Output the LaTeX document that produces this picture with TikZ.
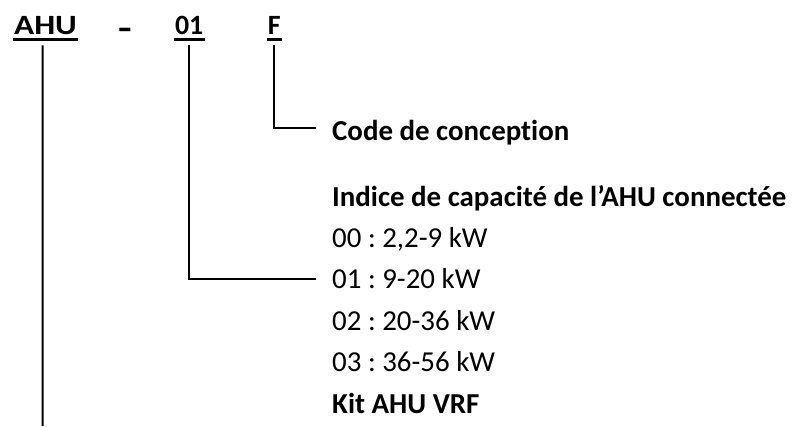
\documentclass[tikz,border=0pt]{standalone}
\usepackage{fontspec}
\setmainfont{Carlito}[Ligatures=CommonOff]
\usetikzlibrary{positioning}
\frenchspacing

\begin{document}
\begin{tikzpicture}[x=1bp, y=-1bp,
    code/.style={font=\bfseries\fontsize{28}{34}\selectfont, inner sep=0pt, anchor=base},
    desc/.style={font=\fontsize{29}{35}\selectfont, inner sep=0pt, anchor=base west},
    title/.style={desc, font=\bfseries\fontsize{29}{35}\selectfont},
    uline/.style={line width=2.6bp},
    lead/.style={line width=2bp}]
    \useasboundingbox (0,0) rectangle (796,426);

    % Model code
    \node[code] (ahu) at (45.5,34) {\scalebox{1.19}[1]{AHU}};
    \node[code] (dash) at (125,39) {\scalebox{1.6}[1.2]{-}};
    \node[code] (cap) at (189.2,34) {01};
    \node[code] (rev) at (274.3,34) {F};
    \foreach \n in {ahu,cap,rev}
        \draw[uline] ([xshift=-1pt,yshift=-5.5pt]\n.base west) -- ([xshift=1pt,yshift=-5.5pt]\n.base east);

    % Meanings
    \node[title] (design) at (332,140) {Code de conception};
    \node[title] (index) at (332,206) {Indice de capacité de l’AHU connectée};
    \node[desc] (r00) at (332,247) {00 : 2,2-9 kW};
    \node[desc] (r01) at (332,288) {01 : 9-20 kW};
    \node[desc] (r02) at (332,330) {02 : 20-36 kW};
    \node[desc] (r03) at (332,371) {03 : 36-56 kW};
    \node[title] (kit) at (332,413) {Kit AHU VRF};

    % Leaders
    \coordinate (ahuend) at (42.5,426);
    \draw[lead] ([xshift=-3pt,yshift=-11.5pt]ahu.base) -- (ahuend);
    \draw[lead] ([yshift=-11.5pt]cap.base) |- ([xshift=-16pt,yshift=9pt]r01.base west);
    \draw[lead] ([yshift=-11.5pt]rev.base) |- ([xshift=-16pt,yshift=12pt]design.base west);
\end{tikzpicture}
\end{document}
